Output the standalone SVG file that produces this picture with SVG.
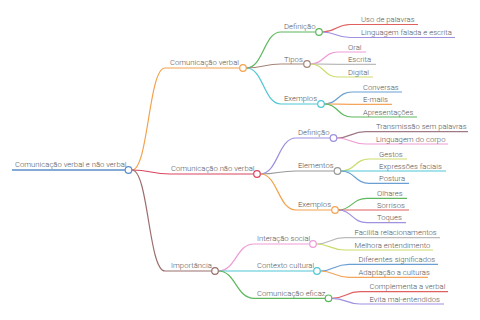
<svg xmlns="http://www.w3.org/2000/svg" width="480" height="320" viewBox="0 0 480 320">
<style>
text{font-family:Roboto,"Liberation Sans",sans-serif;font-size:7.7px;fill:#555;font-weight:300}
.e{fill:none;stroke-width:1.2}
.c{fill:#fff;stroke-width:1.2}
</style>
<rect width="480" height="320" fill="#fff"/>
<g id="connectors">
<path class="e" stroke="#f4a24d" d="M132 170C148.5 170 148.5 68 165 68H239.7"/>
<path class="e" stroke="#d9455f" d="M132 170C151 170 151 174 170 174H253.7"/>
<path class="e" stroke="#9b6e6e" d="M132 170C148.5 170 148.5 271 165 271H211.7"/>
<path class="e" stroke="#5cb85c" d="M246.3 68C263.6 68 263.6 32 281 32H315.7"/>
<path class="e" stroke="#a4857a" d="M246.3 68C263.6 68 263.6 64 281 64H303.7"/>
<path class="e" stroke="#4fc6d3" d="M246.3 68C263.6 68 263.6 104 281 104H317.7"/>
<path class="e" stroke="#e06060" d="M322.3 32C336 32 336 24.5 350 24.5H418"/>
<path class="e" stroke="#a090e0" d="M322.3 32C336 32 336 37.5 350 37.5H455"/>
<path class="e" stroke="#ee9bd6" d="M310.3 64C324 64 324 52 338 52H366"/>
<path class="e" stroke="#bbbbbb" d="M310.3 64C324 64 324 64.3 338 64.3H376"/>
<path class="e" stroke="#cddc6e" d="M310.3 64C324 64 324 77 338 77H373"/>
<path class="e" stroke="#6a9fd4" d="M324.3 104C338 104 338 92 352 92H402"/>
<path class="e" stroke="#f4a55a" d="M324.3 104C338 104 338 104.3 352 104.3H392"/>
<path class="e" stroke="#5cb85c" d="M324.3 104C338 104 338 117 352 117H417"/>
<path class="e" stroke="#9d8fe0" d="M260.3 174C278 174 278 138 296 138H330.2"/>
<path class="e" stroke="#999999" d="M260.3 174C278 174 278 171 296 171H334.2"/>
<path class="e" stroke="#f4a24d" d="M260.3 174C278 174 278 210 296 210H331.7"/>
<path class="e" stroke="#a07a86" d="M336.8 138C351 138 351 131.7 366 131.7H468"/>
<path class="e" stroke="#ee9bd6" d="M336.8 138C351 138 351 144 366 144H448"/>
<path class="e" stroke="#cddc6e" d="M340.8 171C355 171 355 159 369 159H407"/>
<path class="e" stroke="#4fc6d3" d="M340.8 171C355 171 355 171 369 171H446"/>
<path class="e" stroke="#6a9fd4" d="M340.8 171C355 171 355 183.3 369 183.3H409"/>
<path class="e" stroke="#5cb85c" d="M338.3 210C352 210 352 198.3 367 198.3H407"/>
<path class="e" stroke="#e06060" d="M338.3 210C352 210 352 210 367 210H409"/>
<path class="e" stroke="#a090e0" d="M338.3 210C352 210 352 222.7 367 222.7H406"/>
<path class="e" stroke="#ee9bd6" d="M218.3 271C236 271 236 244 254 244H309.7"/>
<path class="e" stroke="#4fc6d3" d="M218.3 271C236 271 236 271 254 271H313.7"/>
<path class="e" stroke="#5cb85c" d="M218.3 271C236 271 236 298.3 254 298.3H325.2"/>
<path class="e" stroke="#bbbbbb" d="M316.3 244C330 244 330 237.7 345 237.7H440"/>
<path class="e" stroke="#cddc6e" d="M316.3 244C330 244 330 250 345 250H433"/>
<path class="e" stroke="#6a9fd4" d="M320.3 271C334 271 334 264.3 349 264.3H438"/>
<path class="e" stroke="#f4a55a" d="M320.3 271C334 271 334 277.3 349 277.3H428"/>
<path class="e" stroke="#e06060" d="M331.8 298.3C346 298.3 346 291.7 360 291.7H448"/>
<path class="e" stroke="#a090e0" d="M331.8 298.3C346 298.3 346 304 360 304H444"/>
</g>
<g id="root"><path d="M12 170H125" stroke="#5b8ec9" stroke-width="1.6" fill="none"/><text x="15" y="167">Comunicação verbal e não verbal</text><circle class="c" stroke="#5b8ec9" cx="128.5" cy="170" r="3.3"/></g>
<g id="n-verbal"><text x="170" y="65">Comunicação verbal</text><circle class="c" stroke="#f4a24d" cx="243" cy="68" r="3.3"/></g>
<g id="n-naoverbal"><text x="171" y="171">Comunicação não verbal</text><circle class="c" stroke="#d9455f" cx="257" cy="174" r="3.3"/></g>
<g id="n-importancia"><text x="171" y="268">Importância</text><circle class="c" stroke="#9b6e6e" cx="215" cy="271" r="3.3"/></g>
<g id="n-v-def"><text x="284" y="29">Definição</text><circle class="c" stroke="#5cb85c" cx="319" cy="32" r="3.3"/></g>
<g id="n-v-tipos"><text x="284" y="61.5">Tipos</text><circle class="c" stroke="#a4857a" cx="307" cy="64" r="3.3"/></g>
<g id="n-v-ex"><text x="284" y="101">Exemplos</text><circle class="c" stroke="#4fc6d3" cx="321" cy="104" r="3.3"/></g>
<g id="n-uso"><text x="361" y="22">Uso de palavras</text></g>
<g id="n-ling"><text x="361" y="35">Linguagem falada e escrita</text></g>
<g id="n-oral"><text x="348" y="49.5">Oral</text></g>
<g id="n-escrita"><text x="348" y="62">Escrita</text></g>
<g id="n-digital"><text x="348" y="74.5">Digital</text></g>
<g id="n-conv"><text x="363" y="89.5">Conversas</text></g>
<g id="n-email"><text x="363" y="102">E-mails</text></g>
<g id="n-apres"><text x="363" y="114.5">Apresentações</text></g>
<g id="n-nv-def"><text x="298" y="135">Definição</text><circle class="c" stroke="#9d8fe0" cx="333.5" cy="138" r="3.3"/></g>
<g id="n-nv-elem"><text x="298" y="168">Elementos</text><circle class="c" stroke="#999999" cx="337.5" cy="171" r="3.3"/></g>
<g id="n-nv-ex"><text x="298" y="207">Exemplos</text><circle class="c" stroke="#f4a24d" cx="335" cy="210" r="3.3"/></g>
<g id="n-trans"><text x="376" y="129">Transmissão sem palavras</text></g>
<g id="n-corpo"><text x="376" y="141.5">Linguagem do corpo</text></g>
<g id="n-gestos"><text x="379" y="156.5">Gestos</text></g>
<g id="n-expr"><text x="379" y="168.5">Expressões faciais</text></g>
<g id="n-postura"><text x="379" y="181">Postura</text></g>
<g id="n-olhares"><text x="377" y="195.8">Olhares</text></g>
<g id="n-sorrisos"><text x="377" y="207.5">Sorrisos</text></g>
<g id="n-toques"><text x="377" y="220.2">Toques</text></g>
<g id="n-inter"><text x="257" y="241">Interação social</text><circle class="c" stroke="#ee9bd6" cx="313" cy="244" r="3.3"/></g>
<g id="n-ctx"><text x="257" y="268">Contexto cultural</text><circle class="c" stroke="#4fc6d3" cx="317" cy="271" r="3.3"/></g>
<g id="n-efic"><text x="257" y="295.5">Comunicação eficaz</text><circle class="c" stroke="#5cb85c" cx="328.5" cy="298.3" r="3.3"/></g>
<g id="n-facil"><text x="354.5" y="235">Facilita relacionamentos</text></g>
<g id="n-melhora"><text x="354.5" y="247.5">Melhora entendimento</text></g>
<g id="n-dif"><text x="358.5" y="262">Diferentes significados</text></g>
<g id="n-adapt"><text x="358.5" y="275">Adaptação a culturas</text></g>
<g id="n-compl"><text x="369.5" y="289">Complementa a verbal</text></g>
<g id="n-evita"><text x="369.5" y="301.5">Evita mal-entendidos</text></g>
</svg>
